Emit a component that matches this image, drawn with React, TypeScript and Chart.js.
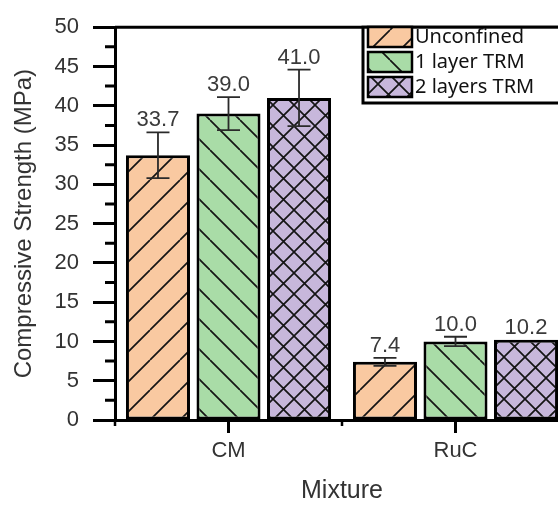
import React, { useEffect, useRef } from 'react';
import { Chart, registerables } from 'chart.js';

Chart.register(...registerables);

// ---- data ----
const categories = ['CM', 'RuC'];
const seriesNames = ['Unconfined', '1 layer TRM', '2 layers TRM'];
const unconfined = [33.7, 7.4];
const oneLayer = [39.0, 10.0];
const twoLayers = [41.0, 10.2];
const unconfinedErr = [2.9, 0.5];
const oneLayerErr = [2.1, 0.6];
const twoLayersErr = [3.6, 0];
const yMin = 0;
const yMax = 50;
const yStep = 5;

const seriesValues = [unconfined, oneLayer, twoLayers];
const seriesErrors = [unconfinedErr, oneLayerErr, twoLayersErr];
const seriesColors = ['#F9C9A1', '#A9DCA7', '#C7B7DB'];
const seriesHatch = ['fwd', 'back', 'cross'];

const W = 580;
const H = 506;
const FONT = "'Liberation Sans', Arial, sans-serif";

function makePattern(kind: string, color: string): CanvasPattern | string {
  const s = kind === 'cross' ? 21 : 30;
  const c = document.createElement('canvas');
  c.width = s;
  c.height = s;
  const g = c.getContext('2d');
  if (!g) return color;
  g.fillStyle = color;
  g.fillRect(0, 0, s, s);
  g.strokeStyle = '#151515';
  g.lineWidth = 1.7;
  g.beginPath();
  for (let k = -1; k <= 1; k++) {
    if (kind === 'fwd' || kind === 'cross') {
      g.moveTo(k * s, s);
      g.lineTo(k * s + s, 0);
    }
    if (kind === 'back' || kind === 'cross') {
      g.moveTo(k * s, 0);
      g.lineTo(k * s + s, s);
    }
  }
  g.stroke();
  const p = g.createPattern(c, 'repeat');
  return p || color;
}

const extras = {
  id: 'extras',
  afterDatasetsDraw(chart: any) {
    const ctx = chart.ctx;
    const ys = chart.scales.y;
    ctx.save();
    chart.data.datasets.forEach((ds: any, i: number) => {
      const meta = chart.getDatasetMeta(i);
      const errs = seriesErrors[i];
      meta.data.forEach((el: any, j: number) => {
        const v = ds.data[j];
        const e = errs[j];
        const x = el.x;
        let topY = el.y;
        if (e > 0) {
          const y1 = ys.getPixelForValue(v + e);
          const y2 = ys.getPixelForValue(v - e);
          ctx.strokeStyle = '#2a2a2a';
          ctx.lineWidth = 1.8;
          ctx.beginPath();
          ctx.moveTo(x, y1);
          ctx.lineTo(x, y2);
          ctx.moveTo(x - 11.5, y1);
          ctx.lineTo(x + 11.5, y1);
          ctx.moveTo(x - 11.5, y2);
          ctx.lineTo(x + 11.5, y2);
          ctx.stroke();
          topY = Math.min(topY, y1);
        }
        ctx.fillStyle = '#3a3a3a';
        ctx.font = `22px ${FONT}`;
        ctx.textAlign = 'center';
        ctx.textBaseline = 'alphabetic';
        ctx.fillText(v.toFixed(1), x, topY - 6);
      });
    });
    ctx.restore();
  },
  afterDraw(chart: any) {
    const ctx = chart.ctx;
    const { left, right, top, bottom } = chart.chartArea;
    const ys = chart.scales.y;
    ctx.save();
    ctx.strokeStyle = '#000';
    ctx.lineCap = 'butt';
    // top frame line
    ctx.lineWidth = 3;
    ctx.beginPath();
    ctx.moveTo(left, top);
    ctx.lineTo(W + 5, top);
    ctx.stroke();
    // y minor ticks
    ctx.beginPath();
    for (let v = yMin + yStep / 2; v < yMax; v += yStep) {
      const y = ys.getPixelForValue(v);
      ctx.moveTo(left - 10, y);
      ctx.lineTo(left, y);
    }
    ctx.stroke();
    // x minor ticks at category boundaries
    const n = categories.length;
    const cw = (right - left) / n;
    ctx.lineWidth = 2.5;
    ctx.beginPath();
    for (let k = 0; k <= n; k++) {
      const x = left + k * cw;
      ctx.moveTo(x, bottom);
      ctx.lineTo(x, bottom + 6);
    }
    ctx.stroke();
    // legend
    const lx = 363;
    const lt = top;
    const lb = 103;
    ctx.fillStyle = '#fff';
    ctx.fillRect(lx, lt, W - lx + 10, lb - lt);
    ctx.lineWidth = 3;
    ctx.strokeRect(lx, lt, W - lx + 10, lb - lt);
    chart.data.datasets.forEach((ds: any, i: number) => {
      const sy = 27 + i * 25;
      ctx.fillStyle = ds.backgroundColor;
      ctx.fillRect(368, sy, 44, 20);
      ctx.lineWidth = 2.5;
      ctx.strokeStyle = '#000';
      ctx.strokeRect(368, sy, 44, 20);
      ctx.fillStyle = '#111';
      ctx.font = `20px 'Noto Sans', sans-serif`;
      ctx.textAlign = 'left';
      ctx.textBaseline = 'middle';
      ctx.fillText(ds.label, 415, sy + 10);
    });
    ctx.restore();
  },
};

export default function App() {
  const ref = useRef<HTMLCanvasElement>(null);
  useEffect(() => {
    if (!ref.current) return;
    const chart = new Chart(ref.current, {
      type: 'bar',
      data: {
        labels: categories,
        datasets: seriesValues.map((vals, i) => ({
          label: seriesNames[i],
          data: vals,
          backgroundColor: makePattern(seriesHatch[i], seriesColors[i]) as any,
          borderColor: '#000',
          borderWidth: 3,
          borderSkipped: false,
          categoryPercentage: 0.932,
          barPercentage: 0.908,
        })),
      },
      options: {
        responsive: false,
        animation: false,
        devicePixelRatio: 1,
        layout: { padding: { left: 0, right: W - 569, top: 22, bottom: 0 } },
        plugins: { legend: { display: false }, tooltip: { enabled: false } },
        scales: {
          x: {
            offset: true,
            ticks: { font: { family: FONT, size: 22 }, color: '#333', padding: 5 },
            grid: { offset: false, drawOnChartArea: false, tickLength: 13, tickWidth: 3, tickColor: '#000' },
            border: { display: true, width: 3, color: '#000' },
            title: { display: true, text: 'Mixture', font: { family: FONT, size: 25 }, color: '#333', padding: { top: 0, bottom: 0 } },
            afterFit: (s: any) => { s.height = 86; },
          },
          y: {
            min: yMin,
            max: yMax,
            ticks: { stepSize: yStep, font: { family: FONT, size: 22 }, color: '#333', padding: 14 },
            grid: { drawOnChartArea: false, tickLength: 22, tickWidth: 3, tickColor: '#000' },
            border: { display: true, width: 3, color: '#000' },
            title: { display: true, text: 'Compressive Strength (MPa)', font: { family: FONT, size: 24 }, color: '#333', padding: { top: 10, bottom: 0 } },
            afterFit: (s: any) => { s.width = 115; },
          },
        },
      },
      plugins: [extras],
    } as any);
    return () => chart.destroy();
  }, []);
  return (
    <div style={{ position: 'fixed', left: 0, top: 0, width: 558, height: 506, overflow: 'hidden', background: '#fff' }}>
      <canvas ref={ref} width={W} height={H} style={{ width: W, height: H, display: 'block' }} />
    </div>
  );
}
